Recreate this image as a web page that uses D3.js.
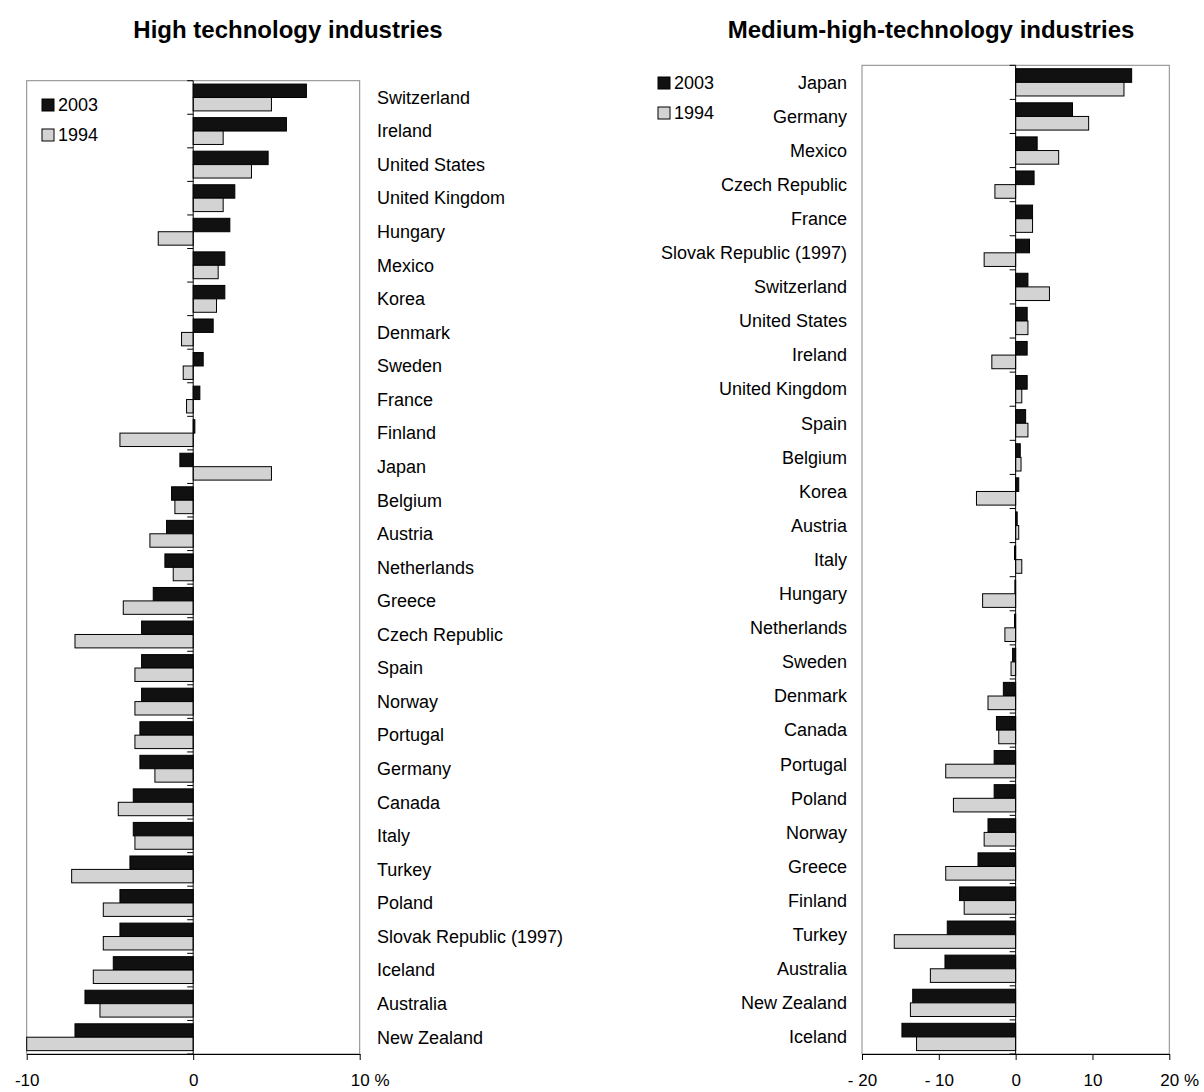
<!DOCTYPE html>
<html>
<head>
<meta charset="utf-8">
<script src="https://cdn.jsdelivr.net/npm/d3@7"></script>
<style>
  html, body { margin: 0; padding: 0; background: #fff; }
  svg { display: block; font-family: "Liberation Sans", Arial, sans-serif; }
</style>
</head>
<body>
<svg id="chart" width="1204" height="1092"></svg>
<script>
// ---------- Data ----------
const seriesNames = ["2003", "1994"];

const countriesHT = ["Switzerland","Ireland","United States","United Kingdom","Hungary","Mexico","Korea","Denmark","Sweden","France","Finland","Japan","Belgium","Austria","Netherlands","Greece","Czech Republic","Spain","Norway","Portugal","Germany","Canada","Italy","Turkey","Poland","Slovak Republic (1997)","Iceland","Australia","New Zealand"];
const ht2003 = [6.8, 5.6, 4.5, 2.5, 2.2, 1.9, 1.9, 1.2, 0.6, 0.4, 0.1, -0.8, -1.3, -1.6, -1.7, -2.4, -3.1, -3.1, -3.1, -3.2, -3.2, -3.6, -3.6, -3.8, -4.4, -4.4, -4.8, -6.5, -7.1];
const ht1994 = [4.7, 1.8, 3.5, 1.8, -2.1, 1.5, 1.4, -0.7, -0.6, -0.4, -4.4, 4.7, -1.1, -2.6, -1.2, -4.2, -7.1, -3.5, -3.5, -3.5, -2.3, -4.5, -3.5, -7.3, -5.4, -5.4, -6.0, -5.6, -10.0];
const htTicks = [-10, 0, 10];

const countriesMHT = ["Japan","Germany","Mexico","Czech Republic","France","Slovak Republic (1997)","Switzerland","United States","Ireland","United Kingdom","Spain","Belgium","Korea","Austria","Italy","Hungary","Netherlands","Sweden","Denmark","Canada","Portugal","Poland","Norway","Greece","Finland","Turkey","Australia","New Zealand","Iceland"];
const mht2003 = [15.1, 7.4, 2.8, 2.4, 2.2, 1.8, 1.6, 1.5, 1.5, 1.5, 1.3, 0.6, 0.4, 0.2, -0.15, -0.1, -0.15, -0.4, -1.6, -2.5, -2.8, -2.8, -3.6, -4.9, -7.3, -8.9, -9.2, -13.4, -14.8];
const mht1994 = [14.1, 9.5, 5.6, -2.7, 2.2, -4.1, 4.4, 1.6, -3.1, 0.8, 1.6, 0.7, -5.1, 0.4, 0.8, -4.3, -1.4, -0.6, -3.6, -2.2, -9.1, -8.1, -4.1, -9.1, -6.7, -15.8, -11.1, -13.7, -12.9];
const mhtTicks = [-20, -10, 0, 10, 20];

// ---------- Styles ----------
const COL_2003 = "#111111";
const COL_1994 = "#d3d3d3";
const FRAME = "#878787";
const FONT = 18;

const svg = d3.select("#chart");

function panel(cfg) {
  const g = svg.append("g");
  const x = d3.scaleLinear().domain(cfg.domain).range([cfg.x0, cfg.x1]);
  const y = d3.scaleBand().domain(cfg.cats).range([cfg.y0, cfg.y1])
              .paddingInner(0.2).paddingOuter(0.1);
  const sub = d3.scaleBand().domain(seriesNames).range([0, y.bandwidth()]);
  const step = y.step();

  // title
  g.append("text")
    .attr("x", cfg.titleX).attr("y", 38)
    .attr("text-anchor", "middle")
    .attr("font-weight", "bold")
    .attr("font-size", cfg.titleSize)
    .attr("fill", "#000")
    .text(cfg.title);

  // frame
  g.append("rect")
    .attr("x", cfg.x0).attr("y", cfg.y0)
    .attr("width", cfg.x1 - cfg.x0).attr("height", cfg.y1 - cfg.y0)
    .attr("fill", "#fff").attr("stroke", FRAME).attr("stroke-width", 1);

  // bars
  const rows = cfg.cats.map((c, i) => ({c, v: [cfg.a[i], cfg.b[i]]}));
  const rowG = g.selectAll("g.row").data(rows).join("g")
    .attr("transform", d => `translate(0,${y(d.c)})`);
  rowG.selectAll("rect").data(d => d.v.map((v, k) => ({v, s: seriesNames[k]})))
    .join("rect")
    .attr("x", d => Math.min(x(0), x(d.v)))
    .attr("y", d => sub(d.s))
    .attr("width", d => Math.abs(x(d.v) - x(0)))
    .attr("height", sub.bandwidth())
    .attr("fill", d => d.s === "2003" ? COL_2003 : COL_1994)
    .attr("stroke", "#000").attr("stroke-width", 1);

  // zero axis line and category-boundary ticks
  g.append("line")
    .attr("x1", x(0)).attr("x2", x(0)).attr("y1", cfg.y0).attr("y2", cfg.y1)
    .attr("stroke", "#000").attr("stroke-width", 1);
  g.selectAll("line.ytick").data(d3.range(cfg.cats.length + 1)).join("line")
    .attr("class", "ytick")
    .attr("x1", x(0) - 6).attr("x2", x(0))
    .attr("y1", i => cfg.y0 + i * step).attr("y2", i => cfg.y0 + i * step)
    .attr("stroke", "#000").attr("stroke-width", 1);

  // category labels
  g.selectAll("text.cat").data(cfg.cats).join("text")
    .attr("class", "cat")
    .attr("x", cfg.labelX)
    .attr("y", c => y(c) + y.bandwidth() / 2)
    .attr("dy", "0.35em")
    .attr("text-anchor", cfg.labelAnchor)
    .attr("font-size", FONT)
    .attr("fill", "#000")
    .text(c => c);

  // x axis
  const ax = g.append("g")
    .attr("transform", `translate(0,${cfg.y1})`)
    .call(d3.axisBottom(x).tickValues(cfg.ticks).tickSize(6).tickSizeOuter(0).tickPadding(14)
      .tickFormat(d => d < 0 ? cfg.negFmt(Math.abs(d)) : String(d)));
  ax.select(".domain").attr("stroke", "#000");
  ax.selectAll(".tick line").attr("stroke", "#000");
  ax.selectAll(".tick text").attr("font-size", 17).attr("fill", "#000")
    .attr("font-family", "Liberation Sans, Arial, sans-serif");
  // append unit to last tick, keeping the number centred on the tick
  const last = ax.selectAll(".tick text").filter(d => d === cfg.ticks[cfg.ticks.length - 1]);
  const len = last.node().getComputedTextLength();
  last.attr("text-anchor", "start").attr("x", -len / 2).text(last.text() + " %");

  // legend
  const lg = g.append("g");
  seriesNames.forEach((s, k) => {
    lg.append("rect")
      .attr("x", cfg.legX).attr("y", cfg.legY + k * 30)
      .attr("width", 12).attr("height", 12)
      .attr("fill", s === "2003" ? COL_2003 : COL_1994)
      .attr("stroke", "#000").attr("stroke-width", 1);
    lg.append("text")
      .attr("x", cfg.legX + 16).attr("y", cfg.legY + 6 + k * 30)
      .attr("dy", "0.35em")
      .attr("font-size", FONT).attr("fill", "#000")
      .text(s);
  });
}

panel({
  title: "High technology industries", titleX: 288, titleSize: 24,
  cats: countriesHT, a: ht2003, b: ht1994,
  domain: [-10, 10], ticks: htTicks,
  x0: 26.7, x1: 359.7, y0: 80.7, y1: 1054,
  labelX: 377, labelAnchor: "start",
  negFmt: v => "-" + v,
  legX: 42, legY: 99
});

panel({
  title: "Medium-high-technology industries", titleX: 931, titleSize: 24,
  cats: countriesMHT, a: mht2003, b: mht1994,
  domain: [-20, 20], ticks: mhtTicks,
  x0: 862, x1: 1169.3, y0: 65.3, y1: 1054,
  labelX: 847, labelAnchor: "end",
  negFmt: v => "- " + v,
  legX: 658, legY: 77
});
</script>
</body>
</html>
